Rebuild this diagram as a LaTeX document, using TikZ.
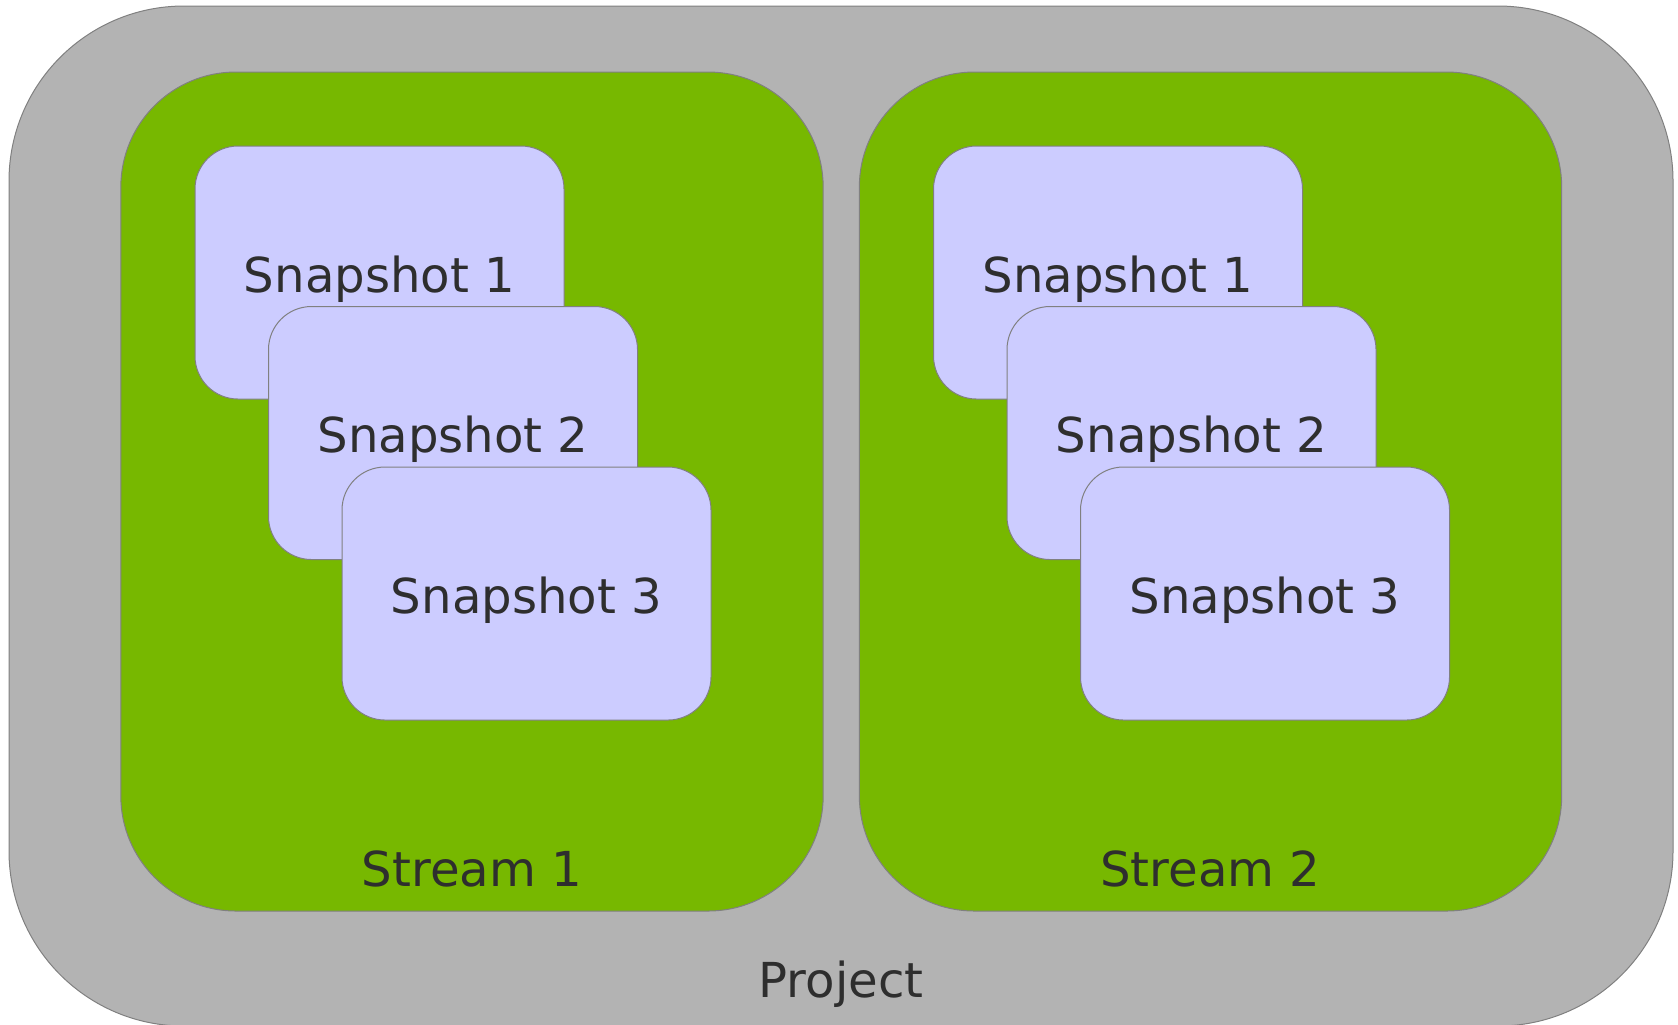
\documentclass[tikz,border=0pt]{standalone}
\usepackage{fontspec}
\setmainfont{DejaVu Sans}
\definecolor{projgray}{HTML}{B3B3B3}
\definecolor{streamgreen}{HTML}{77B800}
\definecolor{snaplav}{HTML}{CCCCFF}
\definecolor{edgegray}{HTML}{808080}
\definecolor{inkgray}{HTML}{2E2E2E}
\begin{document}
\begin{tikzpicture}[x=0.3pt,y=-0.3pt,
  panel/.style={draw=edgegray,line width=0.3pt,inner sep=0pt,outer sep=0pt},
  projbox/.style={panel,fill=projgray,rounded corners=52.5pt,minimum width=499.2pt,minimum height=306pt},
  streambox/.style={panel,fill=streamgreen,rounded corners=34.5pt,minimum width=210.7pt,minimum height=251.7pt},
  snapbox/.style={panel,fill=snaplav,rounded corners=12.9pt,minimum width=110.7pt,minimum height=75.9pt},
  lbl/.style={anchor=base,inner sep=0pt,text=inkgray,font=\fontsize{14.45}{17}\selectfont}
]
\useasboundingbox (0,0) rectangle (1678,1024);

% project container
\node[projbox] (project) at (841,516) {};
\node[lbl] (projectlbl) at (841,997) {Project};

% two streams, each holding three stacked snapshots
\foreach \s/\dx in {1/0,2/738.5}{
  \node[streambox] (stream\s) at (472+\dx,491.5) {};
  \node[lbl] (stream\s lbl) at (472+\dx,886) {Stream \s};
  \foreach \k in {1,2,3}{
    \node[snapbox] (snap\s\k) at ({379.5+73.5*(\k-1)+\dx},{272.5+160.5*(\k-1)}) {};
    \node[lbl] (snap\s\k lbl) at ([yshift=-5.9pt]snap\s\k.center) {Snapshot \k};
  }
}
\end{tikzpicture}
\end{document}
